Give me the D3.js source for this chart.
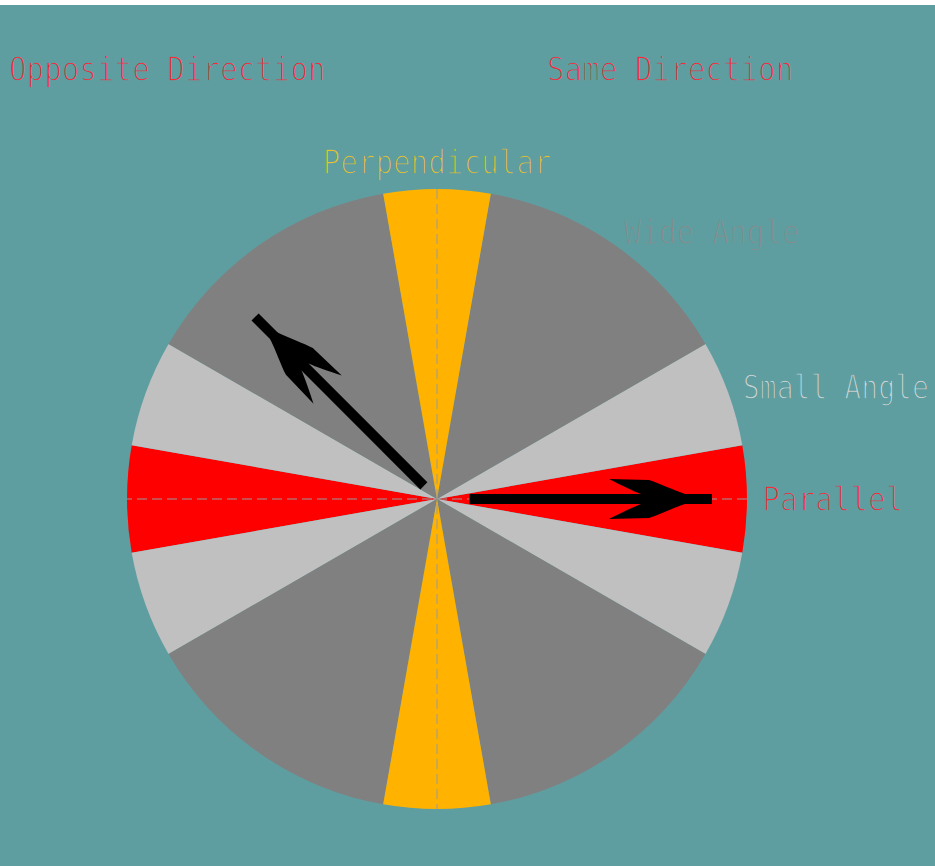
<!DOCTYPE html>
<html>
<head>
<meta charset="utf-8">
<script src="https://cdn.jsdelivr.net/npm/d3@7"></script>
<style>
  html, body { margin: 0; padding: 0; background: #ffffff; }
  svg { display: block; }
  text { font-family: "DejaVu Sans Mono", "Liberation Mono", monospace; }
</style>
</head>
<body>
<div id="chart"></div>
<script>
// angle classes between two directions (degrees, acute angle to the reference axis)
var classNames = ["Parallel", "Small Angle", "Wide Angle", "Perpendicular"];
var classBounds = [0, 10, 30, 80, 90];
var classLabelAngle = [0, 20, 55, 90];

// the two vectors (direction in degrees, radial extent as fraction of radius)
var vectorAngle = [135, 0];
var vectorFrom = [0.06, 0.105];
var vectorTo = [0.83, 0.887];
var vectorHead = [0.744, 0.8];

var headings = ["Opposite Direction", "Same Direction"];

var width = 935, height = 866;
var cx = 437, cy = 499, R = 310;
var bg = "#5f9ea0";
var colors = ["#ff0000", "#c0c0c0", "#808080", "#ffb300"];
var textColors = ["#ff2636", "#d4d8d8", "#8a8a8a", "#e8c030"];
var charW = 17.6;

var svg = d3.select("#chart").append("svg")
    .attr("width", width)
    .attr("height", height);

// teal panel below a thin white strip
svg.append("rect")
    .attr("x", 0).attr("y", 5)
    .attr("width", width).attr("height", height - 5)
    .attr("fill", bg);

var r = d3.scaleLinear().domain([0, 1]).range([0, R]);
// math angle (ccw from +x, degrees) -> d3 arc angle (cw from 12 o'clock, radians)
var a = d3.scaleLinear().domain([0, 90]).range([Math.PI / 2, 0]);

var g = svg.append("g").attr("transform", "translate(" + cx + "," + cy + ")");

// build sectors: mirror each class into the four quadrants
var sectors = [];
classNames.forEach(function(name, i) {
    var lo = classBounds[i], hi = classBounds[i + 1];
    [[lo, hi], [180 - hi, 180 - lo], [180 + lo, 180 + hi], [360 - hi, 360 - lo]].forEach(function(p) {
        sectors.push({ cls: i, start: p[0], end: p[1] });
    });
});

var arc = d3.arc()
    .innerRadius(0)
    .outerRadius(r(1))
    .startAngle(function(d) { return a(d.end); })
    .endAngle(function(d) { return a(d.start); });

g.append("g").attr("class", "sectors")
    .selectAll("path")
    .data(sectors)
    .enter()
    .append("path")
    .attr("d", arc)
    .attr("fill", function(d) { return colors[d.cls]; });

// dashed reference diameters
function pt(angle, rr) {
    var t = angle * Math.PI / 180;
    return [r(rr) * Math.cos(t), -r(rr) * Math.sin(t)];
}
[0, 90].forEach(function(ang) {
    var p0 = pt(ang, 1), p1 = pt(ang + 180, 1);
    g.append("line")
        .attr("x1", p0[0]).attr("y1", p0[1])
        .attr("x2", p1[0]).attr("y2", p1[1])
        .attr("stroke", "#9a9a9a")
        .attr("stroke-width", 1)
        .attr("stroke-dasharray", "10,5");
});

// vectors with barbed heads
var headPath = "M4,0 L0,-5 C-12,-9 -26,-16 -36,-19 L-76,-20 C-62,-13 -52,-8 -44,-5" +
               " L-44,5 C-52,8 -62,13 -76,20 L-36,19 C-26,16 -12,9 0,5 Z";
vectorAngle.forEach(function(ang, i) {
    var s = pt(ang, vectorFrom[i]), e = pt(ang, vectorTo[i]), h = pt(ang, vectorHead[i]);
    g.append("line")
        .attr("x1", s[0]).attr("y1", s[1])
        .attr("x2", e[0]).attr("y2", e[1])
        .attr("stroke", "#000")
        .attr("stroke-width", 10);
    g.append("path")
        .attr("d", headPath)
        .attr("fill", "#000")
        .attr("transform", "translate(" + h[0] + "," + h[1] + ") rotate(" + (-ang) + ")");
});

// thin "plotter" lettering: mono glyphs eroded by a background-coloured stroke,
// squeezed horizontally to the narrow character pitch of the original
function thinText(parent, x, y, str, color, anchor, baseline, targetW) {
    var holder = parent.append("g");
    var t = holder.append("text")
        .attr("text-anchor", anchor)
        .attr("dominant-baseline", baseline)
        .attr("font-size", 33)
        .attr("fill", color)
        .attr("stroke", bg)
        .attr("stroke-width", 1.7)
        .attr("paint-order", "fill")
        .text(str);
    var w = t.node().getComputedTextLength();
    holder.attr("transform", "translate(" + x + "," + y + ") scale(" + (targetW / w) + ",1)");
}

// class labels just outside the circle (squeezed if they would run off the right edge)
classNames.forEach(function(name, i) {
    var p = pt(classLabelAngle[i], 1.05);
    var top = classLabelAngle[i] === 90;
    var len = Math.min(name.length * charW, width - cx - p[0] - 6);
    thinText(g, p[0], p[1], name, textColors[i],
        top ? "middle" : "start", top ? "alphabetic" : "central", len);
});

// headings
headings.forEach(function(d, i) {
    thinText(svg, i === 0 ? 9 : 547, 81, d, textColors[0], "start", "alphabetic", d.length * charW);
});
</script>
</body>
</html>
